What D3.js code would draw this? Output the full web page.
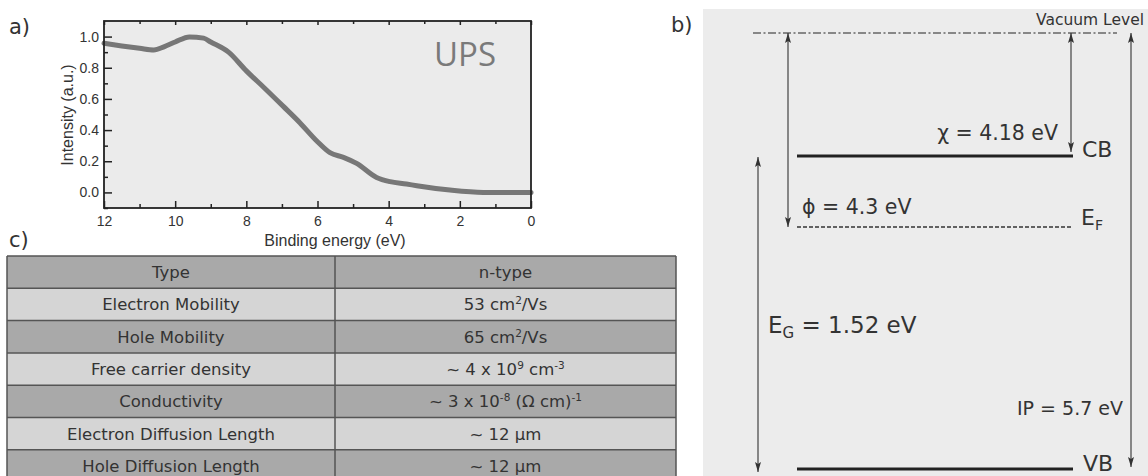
<!DOCTYPE html>
<html>
<head>
<meta charset="utf-8">
<script src="https://cdn.jsdelivr.net/npm/d3@7"></script>
<style>
body { margin: 0; background: #fff; }
text { fill: #333; }
</style>
</head>
<body>
<div id="chart"></div>
<script>
// a) UPS spectrum
var energy    = [12, 11.5, 11, 10.6, 10.3, 10, 9.6, 9.2, 9, 8.5, 8, 7.5, 6.96, 6.49, 6.02, 5.65, 5.27, 4.9, 4.34, 3.96, 3.5, 3.21, 2.28, 1.34, 0.5, 0];
var intensity = [0.957, 0.94, 0.925, 0.914, 0.936, 0.965, 0.998, 0.99, 0.965, 0.9, 0.78, 0.672, 0.552, 0.446, 0.33, 0.255, 0.225, 0.186, 0.096, 0.069, 0.054, 0.043, 0.015, 0.0, 0.0, 0.0];
var xTicks = [12, 10, 8, 6, 4, 2, 0];
var yTicks = [0, 0.2, 0.4, 0.6, 0.8, 1.0];

// c) table
var params = ["Type", "Electron Mobility", "Hole Mobility", "Free carrier density", "Conductivity", "Electron Diffusion Length", "Hole Diffusion Length"];
var values = ["n-type", "53 cm^{2}/Vs", "65 cm^{2}/Vs", "~ 4 x 10^{9} cm^{-3}", "~ 3 x 10^{-8} (\u03a9 cm)^{-1}", "~ 12 \u03bcm", "~ 12 \u03bcm"];

// b) band diagram (eV below vacuum)
var levelNames  = ["vac", "CB", "EF", "VB"];
var levelEnergy = [0, -4.18, -4.3, -5.7];

var W = 1148, H = 476;
var svg = d3.select("#chart").append("svg").attr("width", W).attr("height", H);

var defs = svg.append("defs");
defs.append("marker").attr("id", "ah")
  .attr("viewBox", "0 0 10 6").attr("refX", 10).attr("refY", 3)
  .attr("markerWidth", 10).attr("markerHeight", 6)
  .attr("markerUnits", "userSpaceOnUse").attr("orient", "auto-start-reverse")
  .append("path").attr("d", "M0,0L10,3L0,6L2,3Z").attr("fill", "#333");

// ---------- panel a ----------
var pa = {l: 104, r: 531, t: 21, b: 208};
var x = d3.scaleLinear().domain([12, 0]).range([pa.l, pa.r]);
var y = d3.scaleLinear().domain([-0.1, 1.1]).range([pa.b, pa.t]);

svg.append("rect").attr("x", pa.l).attr("y", pa.t).attr("width", pa.r - pa.l).attr("height", pa.b - pa.t)
  .attr("fill", "#ebebeb");

var pts = energy.map(function(e, i) { return [e, intensity[i]]; });
svg.append("path").datum(pts)
  .attr("fill", "none").attr("stroke", "#777").attr("stroke-width", 5).attr("stroke-linecap", "round")
  .attr("d", d3.line().x(function(d) { return x(d[0]); }).y(function(d) { return y(d[1]); }).curve(d3.curveMonotoneX));

function styleAxis(g) {
  g.select(".domain").remove();
  g.selectAll("line").attr("stroke", "#222").attr("stroke-width", 1.5);
  g.selectAll("text").style("font-family", "Liberation Sans, Arial, sans-serif").style("font-size", "14px").attr("fill", "#333");
}
function minorAxis(g) {
  styleAxis(g);
  g.selectAll("text").remove();
}
// major + minor ticks, inward
var xMinor = d3.range(11, 0, -2);
var yMinor = [-0.1, 0.1, 0.3, 0.5, 0.7, 0.9];
svg.append("g").attr("transform", "translate(0," + pa.b + ")")
  .call(d3.axisBottom(x).tickValues(xTicks).tickFormat(d3.format("d")).tickSizeInner(-7).tickPadding(8))
  .call(styleAxis);
svg.append("g").attr("transform", "translate(0," + pa.b + ")")
  .call(d3.axisBottom(x).tickValues(xMinor).tickSizeInner(-4)).call(minorAxis);
svg.append("g").attr("transform", "translate(0," + pa.t + ")")
  .call(d3.axisTop(x).tickValues(xTicks).tickSizeInner(-4)).call(minorAxis);
svg.append("g").attr("transform", "translate(0," + pa.t + ")")
  .call(d3.axisTop(x).tickValues(xMinor).tickSizeInner(-3)).call(minorAxis);
svg.append("g").attr("transform", "translate(" + pa.l + ",0)")
  .call(d3.axisLeft(y).tickValues(yTicks).tickFormat(d3.format(".1f")).tickSizeInner(-8).tickPadding(5))
  .call(styleAxis);
svg.append("g").attr("transform", "translate(" + pa.l + ",0)")
  .call(d3.axisLeft(y).tickValues(yMinor).tickSizeInner(-4)).call(minorAxis);

svg.append("rect").attr("x", pa.l).attr("y", pa.t).attr("width", pa.r - pa.l).attr("height", pa.b - pa.t)
  .attr("fill", "none").attr("stroke", "#222").attr("stroke-width", 1.8);

svg.append("text").attr("x", 335).attr("y", 246).attr("text-anchor", "middle")
  .style("font-family", "Liberation Sans, Arial, sans-serif").style("font-size", "16px")
  .text("Binding energy (eV)");
svg.append("text").attr("transform", "translate(73,115) rotate(-90)").attr("text-anchor", "middle")
  .style("font-family", "Liberation Sans, Arial, sans-serif").style("font-size", "16px")
  .text("Intensity (a.u.)");
svg.append("text").attr("x", 434).attr("y", 66).attr("fill", "#7a7a7a").style("fill", "#7a7a7a")
  .style("font-family", "Open Sans, sans-serif").style("font-size", "33px").text("UPS");

function panelLabel(t, px, py) {
  svg.append("text").attr("x", px).attr("y", py)
    .style("font-family", "DejaVu Sans, sans-serif").style("font-size", "21px").text(t);
}
panelLabel("a)", 9, 34);
panelLabel("c)", 9, 247);
panelLabel("b)", 671, 32);

// ---------- panel c: table ----------
var tb = {l: 7, mid: 335, r: 676, t: 256, rh: 32.3};
var rowY = d3.scaleBand().domain(d3.range(params.length)).range([tb.t, tb.t + tb.rh * params.length]);
var rows = svg.append("g").selectAll("g").data(params).join("g")
  .attr("transform", function(d, i) { return "translate(0," + rowY(i) + ")"; });
rows.append("rect").attr("x", tb.l).attr("width", tb.r - tb.l).attr("height", rowY.bandwidth())
  .attr("fill", function(d, i) { return i % 2 ? "#d5d5d5" : "#a9a9a9"; });
rows.append("line").attr("x1", tb.l).attr("x2", tb.r).attr("y1", 0).attr("y2", 0)
  .attr("stroke", "#555").attr("stroke-width", 1.5);
rows.append("text").attr("x", (tb.l + tb.mid) / 2).attr("y", rowY.bandwidth() / 2 + 6).attr("text-anchor", "middle")
  .style("font-family", "DejaVu Sans, sans-serif").style("font-size", "16.5px").text(function(d) { return d; });
rows.append("text").attr("x", (tb.mid + tb.r) / 2).attr("y", rowY.bandwidth() / 2 + 6).attr("text-anchor", "middle")
  .style("font-family", "DejaVu Sans, sans-serif").style("font-size", "16.5px")
  .each(function(d, i) {
    var t = d3.select(this);
    var shift = 0;
    values[i].split(/(\^\{[^}]*\})/).forEach(function(s) {
      if (!s) return;
      if (s.charAt(0) === "^") {
        t.append("tspan").attr("dy", -6).style("font-size", "10.5px").text(s.slice(2, -1));
        shift = 6;
      } else {
        t.append("tspan").attr("dy", shift).text(s);
        shift = 0;
      }
    });
  });
[tb.l, tb.mid, tb.r].forEach(function(lx) {
  svg.append("line").attr("x1", lx).attr("x2", lx).attr("y1", tb.t).attr("y2", H)
    .attr("stroke", "#555").attr("stroke-width", 1.5);
});

// ---------- panel b: band diagram ----------
svg.append("rect").attr("x", 703).attr("y", 9).attr("width", W - 703).attr("height", H - 9).attr("fill", "#ececec");
var ey = d3.scaleLinear().domain(levelEnergy).range([33, 156, 227, 469]);
var lv = {};
levelNames.forEach(function(n, i) { lv[n] = ey(levelEnergy[i]); });

svg.append("line").attr("x1", 753).attr("x2", 1117).attr("y1", lv.vac).attr("y2", lv.vac)
  .attr("stroke", "#222").attr("stroke-width", 1.2).attr("stroke-dasharray", "8,2.5,2,2.5");
svg.append("line").attr("x1", 797).attr("x2", 1073).attr("y1", lv.CB).attr("y2", lv.CB)
  .attr("stroke", "#222").attr("stroke-width", 3);
svg.append("line").attr("x1", 797).attr("x2", 1073).attr("y1", lv.VB).attr("y2", lv.VB)
  .attr("stroke", "#222").attr("stroke-width", 3);
svg.append("line").attr("x1", 797).attr("x2", 1073).attr("y1", lv.EF).attr("y2", lv.EF)
  .attr("stroke", "#333").attr("stroke-width", 1.3).attr("stroke-dasharray", "4,2");

function arrow(ax, y1, y2) {
  svg.append("line").attr("x1", ax).attr("x2", ax).attr("y1", y1).attr("y2", y2)
    .attr("stroke", "#333").attr("stroke-width", 1.1)
    .attr("marker-start", "url(#ah)").attr("marker-end", "url(#ah)");
}
arrow(788, lv.vac, lv.EF);
arrow(1071, lv.vac, lv.CB - 4);
arrow(1131, lv.vac, lv.VB - 2);
arrow(758, lv.CB + 1, lv.VB + 3);

function txt(s, tx, ty, size, anchor) {
  return svg.append("text").attr("x", tx).attr("y", ty).attr("text-anchor", anchor || "start")
    .style("font-family", "DejaVu Sans, sans-serif").style("font-size", size + "px").text(s);
}
txt("Vacuum Level", 1144, 25, 15.5, "end");
txt("CB", 1082, lv.CB + 1, 22);
txt("VB", 1083, lv.VB + 2, 22);
var ef = txt("E", 1081, lv.EF - 2, 22);
ef.append("tspan").attr("dy", 5).style("font-size", "14px").text("F");
txt("\u03c7 = 4.18 eV", 1058, lv.CB - 16, 20.5, "end");
txt("\u03d5 = 4.3 eV", 802, lv.EF - 13, 20.5);
var eg = txt("E", 768, 333, 23);
eg.append("tspan").attr("dy", 5).style("font-size", "15px").text("G");
eg.append("tspan").attr("dy", -5).text(" = 1.52 eV");
txt("IP = 5.7 eV", 1123, 415, 19, "end");
</script>
</body>
</html>
